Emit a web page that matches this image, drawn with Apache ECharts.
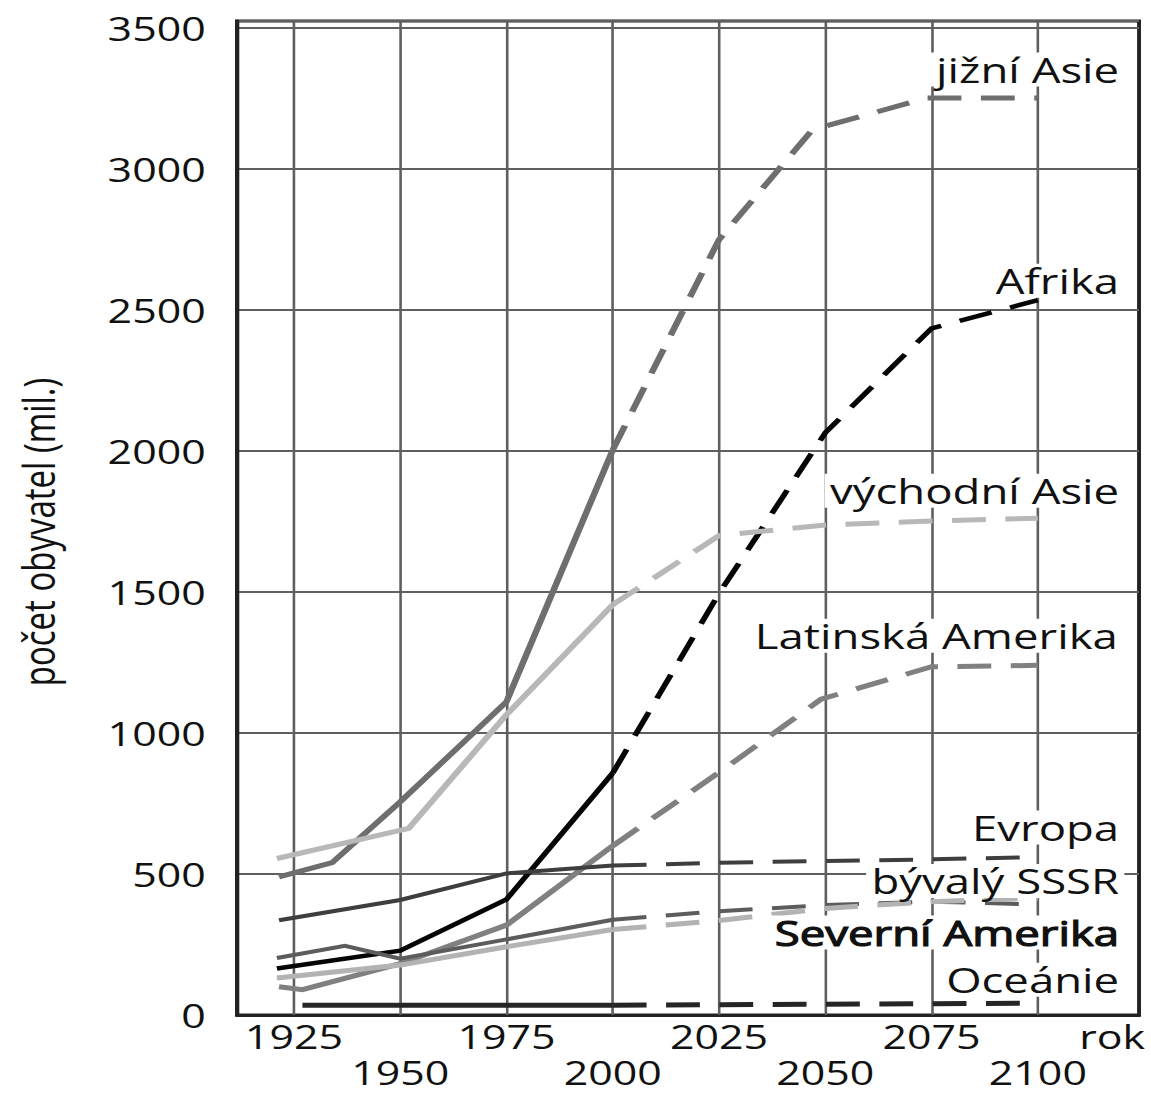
<!DOCTYPE html>
<html>
<head>
<meta charset="utf-8">
<script src="https://cdn.jsdelivr.net/npm/echarts@6/dist/echarts.min.js"></script>
<style>
html,body{margin:0;padding:0;background:#fff;overflow:hidden}
#chart{width:885px;height:1093px;transform:scaleX(1.30056);transform-origin:0 0}
</style>
</head>
<body>
<div id="chart"></div>
<script>
// ---- axis data ----
const xTicks = [1925, 1950, 1975, 2000, 2025, 2050, 2075, 2100];
const xLowerRow = [1950, 2000, 2050, 2100];
const xMin = 1911.6, xMax = 2123.8;
const yMin = 0, yMax = 3525, yStep = 500;
const yTitle = 'počet obyvatel (mil.)';
const xTitle = 'rok';

// ---- series data: [year, millions] ; solid = estimate, dashed = projection ----
const jizniAsieSolid   = [[1921.5, 490], [1934, 540], [1950, 756], [1975, 1111], [2000, 2004]];
const jizniAsieDashed  = [[2000, 2004], [2025, 2750], [2047, 3140], [2074, 3252], [2100, 3252]];
const afrikaSolid      = [[1921, 165], [1950, 228], [1975, 410], [2000, 858]];
const afrikaDashed     = [[2000, 858], [2025, 1495], [2050, 2065], [2075, 2435], [2100, 2535]];
const vychAsieSolid    = [[1921, 555], [1952, 662], [1975, 1065], [2000, 1455]];
const vychAsieDashed   = [[2000, 1455], [2025, 1700], [2050, 1738], [2075, 1752], [2100, 1762]];
const latAmerikaSolid  = [[1921.5, 100], [1927, 90], [1950, 182], [1975, 319], [2000, 600]];
const latAmerikaDashed = [[2000, 600], [2025, 860], [2049, 1120], [2075, 1235], [2100, 1240]];
const evropaSolid      = [[1921.5, 336], [1950, 408], [1975, 502], [2000, 530]];
const evropaDashed     = [[2000, 530], [2025, 540], [2050, 546], [2075, 552], [2100, 560]];
const sssrSolid        = [[1921, 202], [1937, 245], [1950, 200], [1975, 268], [2000, 338]];
const sssrDashed       = [[2000, 338], [2025, 368], [2050, 390], [2075, 402], [2100, 392]];
const sevAmerikaSolid  = [[1921, 131], [1950, 177], [1975, 242], [2000, 303]];
const sevAmerikaDashed = [[2000, 303], [2025, 335], [2050, 378], [2075, 402], [2100, 415]];
const oceanieSolid     = [[1927, 35], [2000, 35]];
const oceanieDashed    = [[2000, 35], [2100, 42]];

const regions = [
  {name: 'jižní Asie',       solid: jizniAsieSolid,  dashed: jizniAsieDashed},
  {name: 'Afrika',           solid: afrikaSolid,     dashed: afrikaDashed},
  {name: 'východní Asie',    solid: vychAsieSolid,   dashed: vychAsieDashed},
  {name: 'Latinská Amerika', solid: latAmerikaSolid, dashed: latAmerikaDashed},
  {name: 'Evropa',           solid: evropaSolid,     dashed: evropaDashed},
  {name: 'bývalý SSSR',      solid: sssrSolid,       dashed: sssrDashed},
  {name: 'Severní Amerika',  solid: sevAmerikaSolid, dashed: sevAmerikaDashed},
  {name: 'Oceánie',          solid: oceanieSolid,    dashed: oceanieDashed}
];

// ---- styles (kept separate from data) ----
const FONT = 'Open Sans';
const styles = {
  'jižní Asie':       {color: '#6e6e6e', width: 5,   dx: 67, dy: -28},
  'Afrika':           {color: '#050505', width: 4.5, dx: 67, dy: -19},
  'východní Asie':    {color: '#b8b8b8', width: 5,   dx: 67, dy: -27},
  'Latinská Amerika': {color: '#808080', width: 5,   dx: 66, dy: -29},
  'Evropa':           {color: '#3e3e3e', width: 4,   dx: 67, dy: -29},
  'bývalý SSSR':      {color: '#5c5c5c', width: 4,   dx: 67, dy: -23},
  'Severní Amerika':  {color: '#b3b3b3', width: 5,   dx: 67, dy: 35, bold: true},
  'Oceánie':          {color: '#262626', width: 5,   dx: 67, dy: -23}
};
const gridColor = '#5f5f5f';
const dashPattern = [26, 15];

const series = [];
// vertical grid lines
series.push({
  type: 'line', data: [], z: 0, silent: true,
  markLine: {
    z: 1, silent: true, symbol: ['none', 'none'], animation: false,
    label: {show: false},
    lineStyle: {color: gridColor, width: 2, type: 'solid'},
    emphasis: {disabled: true},
    data: xTicks.map(v => ({xAxis: v}))
  }
});

regions.forEach(r => {
  const st = styles[r.name];
  series.push({
    name: r.name, type: 'line', data: r.solid, showSymbol: false, z: 3,
    lineStyle: {color: st.color, width: st.width, type: 'solid', cap: 'butt', join: 'miter'},
    itemStyle: {color: st.color}
  });
  const last = r.dashed[r.dashed.length - 1];
  series.push({
    name: r.name, type: 'line', data: r.dashed, showSymbol: false, z: 3,
    lineStyle: {color: st.color, width: st.width, type: dashPattern, cap: 'butt', join: 'miter'},
    itemStyle: {color: st.color},
    markPoint: {
      silent: true, animation: false,
      symbol: 'circle', symbolSize: 1,
      itemStyle: {color: 'rgba(0,0,0,0)'},
      label: {
        show: true, position: [st.dx, st.dy], align: 'right', verticalAlign: 'middle',
        formatter: r.name, fontFamily: FONT, fontSize: 35, color: '#111',
        backgroundColor: '#fff', padding: [0, 4], lineHeight: 34,
        textBorderColor: st.bold ? '#111' : 'transparent', textBorderWidth: st.bold ? 1.2 : 0
      },
      data: [{coord: last}]
    }
  });
});

const chart = echarts.init(document.getElementById('chart'), null, {renderer: 'svg'});
chart.setOption({
  animation: false,
  backgroundColor: '#fff',
  grid: {
    left: 182.2, right: 9.2, top: 21, bottom: 78,
    show: true, borderColor: '#222', borderWidth: 3, backgroundColor: 'transparent',
    containLabel: false, outerBoundsMode: 'none'
  },
  xAxis: {
    type: 'value', min: xMin, max: xMax,
    splitLine: {show: false},
    axisLine: {show: true, lineStyle: {color: '#222', width: 3}},
    axisTick: {show: false, customValues: xTicks},
    axisLabel: {
      customValues: xTicks,
      formatter: v => (xLowerRow.indexOf(v) >= 0 ? '\n' + v : '' + v),
      fontFamily: FONT, fontSize: 33, lineHeight: 36, margin: 3, color: '#111'
    }
  },
  yAxis: {
    type: 'value', min: yMin, max: yMax, interval: yStep,
    splitLine: {show: true, lineStyle: {color: gridColor, width: 2}},
    axisLine: {show: true, lineStyle: {color: '#222', width: 3}},
    axisTick: {show: false},
    axisLabel: {
      formatter: v => (v % yStep === 0 ? '' + v : ''),
      fontFamily: FONT, fontSize: 33, margin: 24, color: '#111'
    }
  },
  graphic: [
    {
      type: 'text', x: 29.6, y: 532, rotation: Math.PI / 2, silent: true,
      style: {text: yTitle, fontFamily: FONT, fontSize: 33, fill: '#111', align: 'center', verticalAlign: 'middle'}
    },
    {
      type: 'text', x: 880.4, y: 1036, silent: true,
      style: {text: xTitle, fontFamily: FONT, fontSize: 33, fill: '#111', align: 'right', verticalAlign: 'middle'}
    }
  ],
  series: series
});
</script>
</body>
</html>
